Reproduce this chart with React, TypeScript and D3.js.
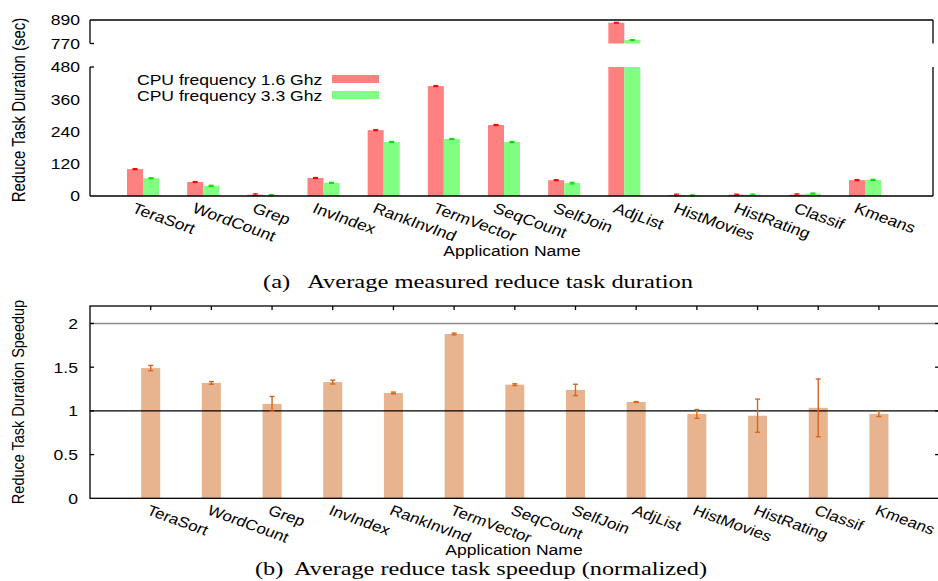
import React from "react";
import * as d3 from "d3";

const categories = [
  "TeraSort", "WordCount", "Grep", "InvIndex", "RankInvInd", "TermVector",
  "SeqCount", "SelfJoin", "AdjList", "HistMovies", "HistRating", "Classif", "Kmeans",
];
const duration16 = [100, 52, 5, 67, 245, 409, 264, 59, 876, 4, 5, 5, 59];
const duration16Err = [2, 2, 3, 2, 2, 2, 2, 2, 2, 3, 2, 3, 2];
const duration33 = [66, 38, 3, 49, 201, 212, 201, 48, 788, 2, 5, 9, 60];
const duration33Err = [2, 2, 2, 2, 2, 2, 2, 3, 2, 2, 2, 2, 2];
const speedup = [1.49, 1.32, 1.08, 1.33, 1.205, 1.88, 1.3, 1.24, 1.102, 0.965, 0.945, 1.035, 0.965];
const speedupErr = [0.03, 0.015, 0.085, 0.022, 0.01, 0.01, 0.01, 0.065, 0.005, 0.05, 0.19, 0.33, 0.03];

const lowTicks = [0, 120, 240, 360, 480];
const highTicks = [770, 890];
const speedTicks = [0, 0.5, 1, 1.5, 2];
const legendLabels = ["CPU frequency 1.6 Ghz", "CPU frequency 3.3 Ghz"];

const W = 938;
const H = 581;
const SX = 1.17;
const FONT = "'Liberation Sans', Arial, Helvetica, sans-serif";
const SERIF = "'Liberation Serif', 'DejaVu Serif', serif";

const RED = "#ff8080";
const GREEN = "#80ff80";
const RED_ERR = "#ff0000";
const GREEN_ERR = "#00e000";
const PEACH = "#e8b48f";
const ORANGE = "#d8661e";

function SText(props: {
  x: number; y: number; text: string; anchor?: string; rotate?: number;
  size?: number; dy?: string; fill?: string;
}) {
  const { x, y, text, anchor = "start", rotate = 0, size = 15, dy, fill = "#000" } = props;
  return (
    <g transform={`translate(${x},${y}) scale(${SX},1) rotate(${rotate})`}>
      <text x={0} y={0} textAnchor={anchor} dy={dy} fontSize={size} fontFamily={FONT} fill={fill}>
        {text}
      </text>
    </g>
  );
}

export default function App() {
  // ---------- top chart ----------
  const tL = 90, tR = 933, tTop = 20, tBot = 196;
  const xTop = d3.scaleLinear().domain([0, 12]).range([143, 865]);
  const yLow = d3.scaleLinear().domain([0, 480]).range([tBot, 67]);
  const yHigh = d3.scaleLinear().domain([770, 890]).range([43.5, tTop]);
  const bw = 16;

  const topBars: React.ReactNode[] = [];
  const series = [
    { vals: duration16, errs: duration16Err, fill: RED, ec: RED_ERR, off: -bw },
    { vals: duration33, errs: duration33Err, fill: GREEN, ec: GREEN_ERR, off: 0 },
  ];
  categories.forEach((c, i) => {
    series.forEach((s, si) => {
      const v = s.vals[i];
      const x0 = xTop(i) + s.off;
      const cx = x0 + bw / 2;
      const e = s.errs[i];
      if (v > 480) {
        topBars.push(
          <rect key={`lo${i}-${si}`} x={x0} y={yLow(480)} width={bw} height={yLow(0) - yLow(480)} fill={s.fill} />
        );
        topBars.push(
          <rect key={`hi${i}-${si}`} x={x0} y={yHigh(v)} width={bw} height={yHigh(770) - yHigh(v)} fill={s.fill} />
        );
        topBars.push(
          <g key={`e${i}-${si}`} stroke={s.ec} strokeWidth={1.2}>
            <line x1={cx} x2={cx} y1={yHigh(v - e)} y2={yHigh(v + e)} />
            <line x1={cx - 2.5} x2={cx + 2.5} y1={yHigh(v - e)} y2={yHigh(v - e)} />
            <line x1={cx - 2.5} x2={cx + 2.5} y1={yHigh(v + e)} y2={yHigh(v + e)} />
          </g>
        );
      } else {
        topBars.push(
          <rect key={`b${i}-${si}`} x={x0} y={yLow(v)} width={bw} height={yLow(0) - yLow(v)} fill={s.fill} />
        );
        const lo = Math.max(0, v - e);
        topBars.push(
          <g key={`e${i}-${si}`} stroke={s.ec} strokeWidth={1.2}>
            <line x1={cx} x2={cx} y1={yLow(lo)} y2={yLow(v + e)} />
            <line x1={cx - 2.5} x2={cx + 2.5} y1={yLow(lo)} y2={yLow(lo)} />
            <line x1={cx - 2.5} x2={cx + 2.5} y1={yLow(v + e)} y2={yLow(v + e)} />
          </g>
        );
      }
    });
  });

  // ---------- bottom chart ----------
  const bL = 90, bR = 939.6, bTop = 306, bBot = 498.3;
  const xBot = d3.scaleLinear().domain([-1, 13]).range([bL, bR]);
  const yS = d3.scaleLinear().domain([0, 2.2]).range([bBot, bTop]);
  const bbw = 19;
  const ROT = 23;

  return (
    <div style={{ position: "absolute", left: 0, top: 0, width: W, height: H, overflow: "hidden", background: "#fff" }}>
      <svg width={W} height={H} viewBox={`0 0 ${W} ${H}`} style={{ display: "block" }}>
        <rect x={0} y={0} width={W} height={H} fill="#fff" />

        {/* ===== TOP CHART ===== */}
        {topBars}
        <g stroke="#000" strokeWidth={1.3} fill="none">
          <line x1={tL} x2={tR} y1={tTop} y2={tTop} />
          <line x1={tL} x2={tR} y1={tBot} y2={tBot} />
          <line x1={tL} x2={tL} y1={tTop} y2={yHigh(770)} />
          <line x1={tL} x2={tL} y1={yLow(480)} y2={tBot} />
          <line x1={tR} x2={tR} y1={tTop} y2={yHigh(770)} />
          <line x1={tR} x2={tR} y1={yLow(480)} y2={tBot} />
          <line x1={tL} x2={tL + 4} y1={yHigh(770)} y2={yHigh(770)} />
          <line x1={tL} x2={tL + 4} y1={yLow(480)} y2={yLow(480)} />
        </g>
        {lowTicks.map((t) => (
          <SText key={`lt${t}`} x={80} y={yLow(t)} text={String(t)} anchor="end" dy="0.36em" />
        ))}
        {highTicks.map((t) => (
          <SText key={`ht${t}`} x={80} y={yHigh(t)} text={String(t)} anchor="end" dy="0.36em" />
        ))}
        <SText x={19} y={110} text="Reduce Task Duration (sec)" anchor="middle" rotate={-90} dy="0.36em" />

        {/* legend */}
        <SText x={137} y={84.5} text={legendLabels[0]} />
        <SText x={137} y={100.5} text={legendLabels[1]} />
        <rect x={332} y={75} width={47} height={8} fill={RED} />
        <rect x={332} y={91} width={47} height={8} fill={GREEN} />

        {categories.map((c, i) => (
          <SText key={`xt${i}`} x={xTop(i) - 12} y={212} text={c} rotate={ROT} />
        ))}
        <SText x={512} y={256} text="Application Name" anchor="middle" />
        <text x={478} y={287.5} textAnchor="middle" fontFamily={SERIF} fontSize={19} textLength={430}
          lengthAdjust="spacingAndGlyphs" style={{ whiteSpace: "pre" }}>
          {"(a)   Average measured reduce task duration"}
        </text>

        {/* ===== BOTTOM CHART ===== */}
        {speedup.map((v, i) => (
          <rect key={`sb${i}`} x={xBot(i) - bbw / 2} y={yS(v)} width={bbw} height={yS(0) - yS(v)} fill={PEACH} />
        ))}
        <line x1={bL} x2={bR} y1={yS(2)} y2={yS(2)} stroke="#8c8c8c" strokeWidth={1.6} />
        <line x1={bL} x2={bR} y1={yS(1)} y2={yS(1)} stroke="#000" strokeWidth={1.3} />
        {speedup.map((v, i) => {
          const cx = xBot(i);
          const e = speedupErr[i];
          return (
            <g key={`se${i}`} stroke={ORANGE} strokeWidth={1.4}>
              <line x1={cx} x2={cx} y1={yS(v - e)} y2={yS(v + e)} />
              <line x1={cx - 2.5} x2={cx + 2.5} y1={yS(v - e)} y2={yS(v - e)} />
              <line x1={cx - 2.5} x2={cx + 2.5} y1={yS(v + e)} y2={yS(v + e)} />
            </g>
          );
        })}
        <g stroke="#000" strokeWidth={1.3} fill="none">
          <rect x={bL} y={bTop} width={bR - bL} height={bBot - bTop} />
          {categories.map((c, i) => (
            <line key={`tt${i}`} x1={xBot(i)} x2={xBot(i)} y1={bTop} y2={bTop + 4} />
          ))}
          {speedTicks.filter((t) => t > 0).map((t) => (
            <g key={`yt${t}`}>
              <line x1={bL} x2={bL + 4} y1={yS(t)} y2={yS(t)} />
              <line x1={bR - 4.5} x2={bR} y1={yS(t)} y2={yS(t)} />
            </g>
          ))}
        </g>
        {speedTicks.map((t) => (
          <SText key={`st${t}`} x={78} y={yS(t)} text={String(t)} anchor="end" dy="0.36em" />
        ))}
        <SText x={18} y={402} text="Reduce Task Duration Speedup" anchor="middle" rotate={-90} dy="0.36em" size={14.5} />
        {categories.map((c, i) => (
          <SText key={`bx${i}`} x={xBot(i) - 5} y={514} text={c} rotate={ROT} size={14.6} />
        ))}
        <SText x={514} y={555} text="Application Name" anchor="middle" />
        <text x={481} y={574.5} textAnchor="middle" fontFamily={SERIF} fontSize={19} textLength={452}
          lengthAdjust="spacingAndGlyphs" style={{ whiteSpace: "pre" }}>
          {"(b)  Average reduce task speedup (normalized)"}
        </text>
      </svg>
    </div>
  );
}
